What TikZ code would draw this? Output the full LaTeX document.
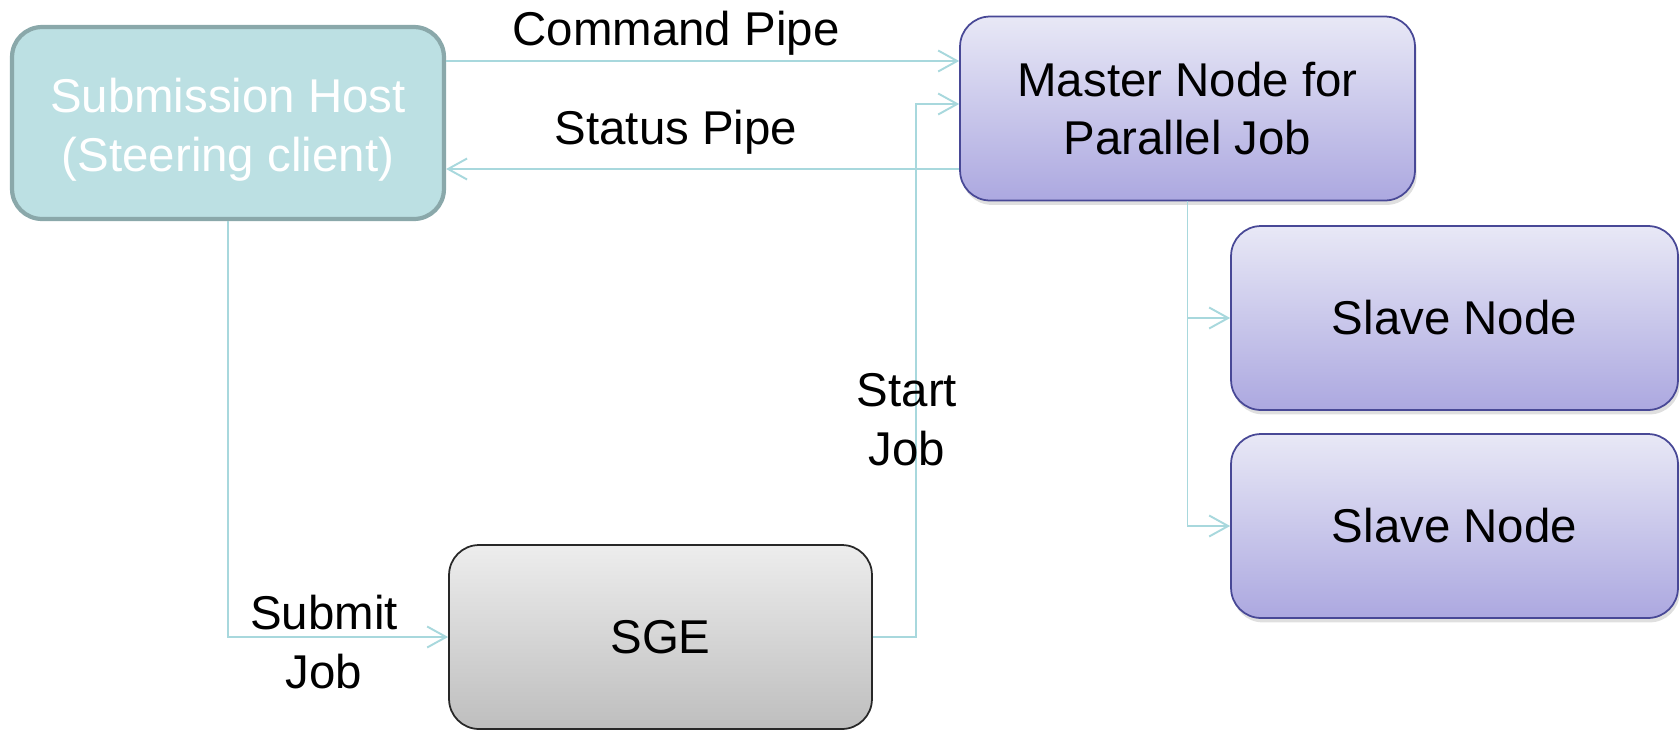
\documentclass[tikz,border=0pt]{standalone}
\usepackage{fontspec}
\setmainfont{Liberation Sans}
\usetikzlibrary{arrows.meta,shadows}

\definecolor{hostfill}{RGB}{188,224,227}
\definecolor{hostline}{RGB}{138,168,170}
\definecolor{pipeline}{RGB}{168,216,221}
\definecolor{jobtop}{RGB}{232,232,246}
\definecolor{jobbottom}{RGB}{172,168,224}
\definecolor{jobline}{RGB}{72,72,150}
\definecolor{sgetop}{RGB}{237,237,237}
\definecolor{sgebottom}{RGB}{190,190,190}
\definecolor{sgeline}{RGB}{40,40,40}

\begin{document}
\begin{tikzpicture}[x=0.02cm,y=-0.02cm]
	\tikzstyle{every node}+=[font=\fontsize{27}{33.5}\selectfont, align=center]
	\tikzstyle{pipe}=[draw=pipeline, line width=1.1pt, -{Straight Barb[length=0.38cm,width=0.42cm]}]
	\tikzstyle{hostbox}=[draw=hostline, fill=hostfill, line width=2.4pt, rounded corners=0.6cm, minimum width=8.64cm, minimum height=3.84cm]
	\tikzstyle{jobbox}=[draw=jobline, line width=1pt, rounded corners=0.6cm, top color=jobtop, bottom color=jobbottom, drop shadow={opacity=0.25, shadow xshift=1pt, shadow yshift=-2.5pt}, minimum height=3.68cm]
	\tikzstyle{sgebox}=[draw=sgeline, line width=1pt, rounded corners=0.6cm, top color=sgetop, bottom color=sgebottom, minimum width=8.46cm, minimum height=3.68cm]
	\useasboundingbox (0,0) rectangle (1680,731);
	% boxes
	\node [hostbox] (host) at (228,123) {};
	\node [text=white] (hosttext) at (228,130) {Submission Host\\(Steering client)};
	\node [jobbox, minimum width=9.1cm] (master) at (1187.5,108.5) {Master Node for\\Parallel Job};
	\node [jobbox, minimum width=8.94cm] (slave1) at (1454.5,318) {Slave Node};
	\node [jobbox, minimum width=8.94cm] (slave2) at (1454.5,526) {Slave Node};
	\node [sgebox] (sge) at (660.5,637) {SGE};
	% pipes
	\draw [pipe] (host.east |- 0,61) -- (master.west |- 0,61);
	\draw (676,33) node {Command Pipe};
	\draw [pipe] (master.west |- 0,169) -- (host.east |- 0,169);
	\draw (676,132) node {Status Pipe};
	% job flow
	\draw [pipe] (host.south) |- (sge.west);
	\draw (324,642) node {Submit\\Job};
	\draw [pipe] (sge.east) -| (916,300) |- (master.west |- 0,104);
	\draw (907,420) node {Start\\Job};
	\draw [pipe] (master.south) |- (slave1.west);
	\draw [pipe] (master.south) |- (slave2.west);
\end{tikzpicture}
\end{document}
